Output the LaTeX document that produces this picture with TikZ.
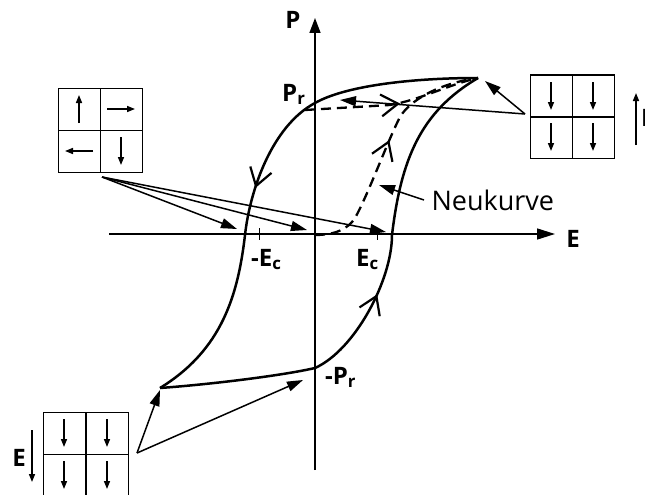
\documentclass[tikz,border=0pt]{standalone}
\usepackage{fontspec}
\setmainfont{Open Sans}
\usetikzlibrary{arrows.meta}

\begin{document}
\begin{tikzpicture}[x=1pt, y=-1pt,
			>={Triangle[length=16pt,width=10pt]},   %Voreinstellung für Pfeilspitzen
			font=\fontsize{27}{31}\selectfont,
			achse/.style={line width=1.5pt},
			kurve/.style={line width=2.5pt},
			gestrichelt/.style={line width=2.3pt, dash pattern=on 10pt off 6pt},
			zeiger/.style={line width=1.5pt, ->},
			zelle/.style={draw, line width=1pt, minimum size=42pt, inner sep=0pt},
			dom/.style={line width=1.5pt, -{Triangle[length=8pt,width=6pt]}},
			lab/.style={font=\fontsize{24}{28}\selectfont\bfseries, inner sep=0pt},
			pfeil/.style={line width=2.2pt, solid, line join=miter}]
			\useasboundingbox (0,0) rectangle (645,495);
			% Punkte der Kurve
			\coordinate (T) at (478,78);
			\coordinate (Pr) at (315,103);
			\coordinate (nEc) at (245,235);
			\coordinate (B) at (160,388);
			\coordinate (mPr) at (315,368);
			\coordinate (pEc) at (392,235);
			\coordinate (O) at (315,235);
			\coordinate (R) at (305,110);
			% Achsen zeichnen
			\coordinate (ex0) at (109,234);
			\coordinate (ex1) at (555,234);
			\coordinate (py0) at (315,470);
			\coordinate (py1) at (315,18);
			\draw[achse, -{Triangle[length=18pt,width=11pt]}] (ex0) -- (ex1);
			\draw[achse, -{Triangle[length=15pt,width=11pt]}] (py0) -- (py1);
			\node[lab] (el) at (573,239) {E};
			\node[lab] (pl) at (293,20) {P};
			% Achsen beschriften
			\foreach \x/\n in {259/tn, 377/tp} {
				\coordinate (\n0) at (\x,228);
				\coordinate (\n1) at (\x,240);
				\draw[line width=1pt] (\n0) -- (\n1);
			}
			\node[lab, anchor=base west] (nec) at (251,266) {-E\textsubscript{c}};
			\node[lab, anchor=base west] (pec) at (356,266) {E\textsubscript{c}};
			\node[lab, anchor=base west] (prl) at (282,101) {P\textsubscript{r}};
			\node[lab, anchor=base west] (mprl) at (325,384) {-P\textsubscript{r}};
			% Hystereseschleife
			\draw[kurve] (T) .. controls (410,78) and (345,86) .. (Pr)
				.. controls (272,126) and (250,190) .. (nEc)
				.. controls (238,295) and (222,350) .. (B);
			\draw[kurve] (B) .. controls (215,384) and (285,375) .. (mPr)
				.. controls (355,350) and (392,280) .. (pEc)
				.. controls (401,160) and (420,112) .. (T);
			% Neukurve und Rueckweg
			\draw[gestrichelt] (O) .. controls (335,235) and (348,229) .. (355,218)
				.. controls (368,195) and (388,140) .. (400,117)
				.. controls (410,100) and (440,83) .. (T);
			\draw[gestrichelt] (R) -- (390,105) .. controls (420,100) and (450,84) .. (T);
			% Richtungspfeile
			\draw[pfeil] (271.5,172.9) -- (256,186) -- (250.3,166.5);
			\draw[pfeil] (379.7,316.2) -- (376.4,296.2) -- (359.5,307.4);
			\draw[pfeil] (392.4,161.9) -- (388.5,142) -- (372,153.7);
			\draw[pfeil] (382.2,116.3) -- (398,103.7) -- (380,94.5);
			\node[anchor=west] (neu) at (428,200) {Neukurve};
			\coordinate (zn) at (379,185);
			\draw[zeiger] ([xshift=-4pt]neu.west) -- (zn);
			% Domaenen
			\foreach \n/\x/\y in {a11/79/109, a12/121/109, a21/79/151, a22/121/151,
				b11/551/96, b12/593/96, b21/551/137, b22/593/137,
				c11/64/433, c12/107/433, c21/64/475, c22/107/475}
				\node[zelle] (\n) at (\x,\y) {};
			\draw[dom] ([yshift=-14pt]a11.center) -- ([yshift=14pt]a11.center);
			\draw[dom] ([xshift=-14pt]a12.center) -- ([xshift=14pt]a12.center);
			\draw[dom] ([xshift=14pt]a21.center) -- ([xshift=-14pt]a21.center);
			\draw[dom] ([yshift=14pt]a22.center) -- ([yshift=-14pt]a22.center);
			\foreach \n in {b11, b12, b21, b22, c11, c12, c21, c22}
				\draw[dom] ([yshift=14pt]\n.center) -- ([yshift=-14pt]\n.center);
			% Feldrichtung
			\coordinate (fb0) at (636,145);
			\coordinate (fb1) at (636,93);
			\draw[dom] (fb0) -- (fb1);
			\node[lab, anchor=west] (feb) at (641,118) {E};
			\coordinate (fc0) at (32,430);
			\coordinate (fc1) at (32,482);
			\draw[dom] (fc0) -- (fc1);
			\node[lab] (fec) at (19,458) {E};
			% Zeiger auf die Zustaende
			\coordinate (qa) at (102,177);
			\coordinate (za1) at (237,229);
			\coordinate (za2) at (307,230);
			\coordinate (za3) at (386,232);
			\foreach \z in {za1, za2, za3} \draw[zeiger] (qa) -- (\z);
			\coordinate (qb) at (525,114);
			\coordinate (zb1) at (485,81);
			\coordinate (zb2) at (340,100);
			\foreach \z in {zb1, zb2} \draw[zeiger] (qb) -- (\z);
			\coordinate (qc) at (137,453);
			\coordinate (zc1) at (160,390);
			\coordinate (zc2) at (303,380);
			\foreach \z in {zc1, zc2} \draw[zeiger] (qc) -- (\z);
		\end{tikzpicture}
\end{document}
